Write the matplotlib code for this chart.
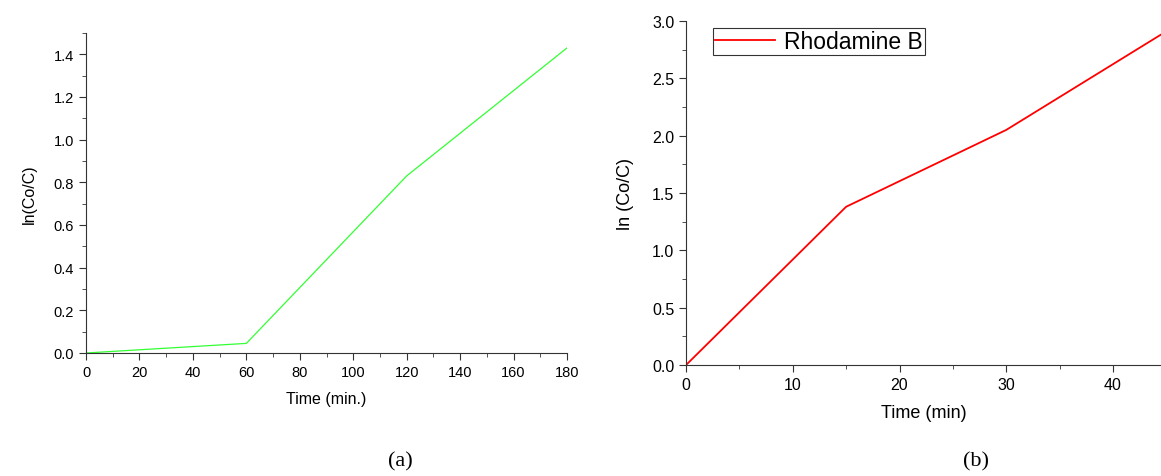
import numpy as np
import matplotlib.pyplot as plt
from matplotlib.ticker import MultipleLocator

# (a) data
time_a = [0, 60, 120, 180]
ln_a = [0.0, 0.045, 0.83, 1.43]

# (b) data
time_b = [0, 15, 30, 45]
ln_b = [0.0, 1.38, 2.05, 2.91]

plt.rcParams["font.family"] = ["Liberation Sans", "DejaVu Sans"]

fig = plt.figure(figsize=(11.61, 4.77), dpi=100)


def style_axes(ax, tick_size):
    ax.spines["top"].set_visible(False)
    ax.spines["right"].set_visible(False)
    ax.spines["left"].set_color("#333333")
    ax.spines["bottom"].set_color("#333333")
    ax.tick_params(which="both", direction="out", colors="#333333", labelcolor="black")
    ax.tick_params(which="major", length=5, labelsize=tick_size)
    ax.tick_params(which="minor", length=3)


# left panel
ax1 = fig.add_axes([0.0741, 0.2579, 0.4143, 0.6709])
ax1.plot(time_a, ln_a, color="#33ff33", lw=0.9)
ax1.set_xlim(0, 180)
ax1.set_ylim(0, 1.5)
ax1.xaxis.set_major_locator(MultipleLocator(20))
ax1.xaxis.set_minor_locator(MultipleLocator(10))
ax1.yaxis.set_major_locator(MultipleLocator(0.2))
ax1.yaxis.set_minor_locator(MultipleLocator(0.1))
ax1.yaxis.set_major_formatter(plt.FormatStrFormatter("%.1f"))
style_axes(ax1, 10.5)
ax1.set_xlabel("Time (min.)", fontsize=11.5, labelpad=9)
ax1.set_ylabel("ln(Co/C)", fontsize=11.5, labelpad=12)

# right panel
ax2 = fig.add_axes([0.5909, 0.2327, 0.4091, 0.7212])
ax2.plot(time_b, ln_b, color="#ff0000", lw=1.3, label="Rhodamine B")
ax2.set_xlim(0, 44.5)
ax2.set_ylim(0, 3.0)
ax2.xaxis.set_major_locator(MultipleLocator(10))
ax2.xaxis.set_minor_locator(MultipleLocator(5))
ax2.yaxis.set_major_locator(MultipleLocator(0.5))
ax2.yaxis.set_minor_locator(MultipleLocator(0.25))
ax2.yaxis.set_major_formatter(plt.FormatStrFormatter("%.1f"))
style_axes(ax2, 11.5)
ax2.set_xlabel("Time (min)", fontsize=13, labelpad=9)
ax2.set_ylabel("ln (Co/C)", fontsize=13, labelpad=13)
leg = ax2.legend(loc="upper left", bbox_to_anchor=(0.057, 0.98), fontsize=16.5,
                 frameon=True, fancybox=False, borderpad=0.1, handlelength=2.6,
                 handletextpad=0.4, borderaxespad=0)
leg.get_frame().set_edgecolor("black")
leg.get_frame().set_linewidth(0.8)

# panel captions
fig.text(400 / 1161, 1 - 462 / 477, "(a)", family="Liberation Serif", fontsize=16,
         ha="center", va="center")
fig.text(976 / 1161, 1 - 462 / 477, "(b)", family="Liberation Serif", fontsize=16,
         ha="center", va="center")

fig.savefig("out.png", dpi=100)
